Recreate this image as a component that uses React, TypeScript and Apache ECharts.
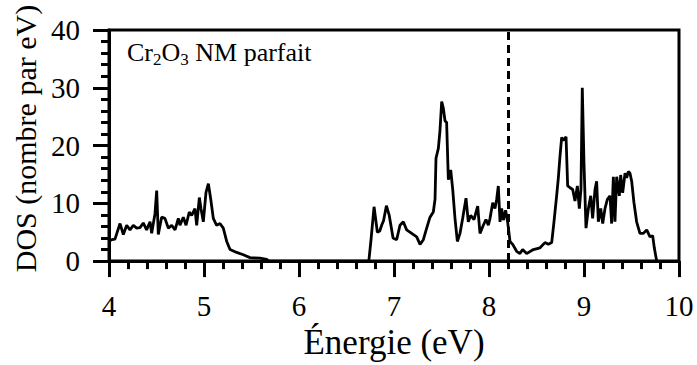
import React, { useEffect, useRef } from "react";
import * as echarts from "echarts";

const energy: number[] = [
  4.0, 4.03, 4.063, 4.116, 4.151, 4.186, 4.221, 4.256, 4.291, 4.326, 4.361, 4.396, 4.432, 4.449, 4.484, 4.502,
  4.519, 4.554, 4.589, 4.625, 4.66, 4.695, 4.73, 4.747, 4.782, 4.811, 4.845, 4.87, 4.905, 4.923, 4.951, 4.968,
  4.993, 5.021, 5.046, 5.071, 5.098, 5.133, 5.168, 5.203, 5.239, 5.274, 5.344, 5.414, 5.484, 5.589, 5.66, 5.68,
  6.72, 6.735, 6.76, 6.79, 6.825, 6.85, 6.87, 6.89, 6.92, 6.95, 6.99, 7.028, 7.063, 7.098, 7.133, 7.186, 7.239,
  7.274, 7.309, 7.344, 7.379, 7.414, 7.432, 7.442, 7.467, 7.484, 7.502, 7.519, 7.537, 7.554, 7.572, 7.597, 7.618,
  7.642, 7.667, 7.695, 7.723, 7.758, 7.782, 7.807, 7.842, 7.881, 7.905, 7.94, 7.968, 7.993, 8.011, 8.039, 8.063,
  8.081, 8.098, 8.116, 8.133, 8.151, 8.175, 8.196, 8.221, 8.249, 8.291, 8.326, 8.354, 8.396, 8.467, 8.537, 8.589,
  8.625, 8.66, 8.684, 8.712, 8.73, 8.747, 8.765, 8.782, 8.811, 8.828, 8.853, 8.881, 8.905, 8.93, 8.951, 8.968,
  8.982, 9.0, 9.021, 9.046, 9.071, 9.091, 9.116, 9.133, 9.151, 9.176, 9.197, 9.221, 9.246, 9.274, 9.291, 9.309,
  9.326, 9.344, 9.372, 9.386, 9.407, 9.432, 9.449, 9.467, 9.484, 9.502, 9.526, 9.554, 9.589, 9.625, 9.66, 9.695,
  9.723, 9.74, 9.765
];

const dos: number[] = [
  3.5, 3.7, 3.8, 6.5, 4.6, 6.2, 5.4, 6.2, 5.7, 5.8, 6.6, 5.4, 6.8, 4.8, 8.2, 12.2,
  4.6, 7.6, 7.4, 5.7, 6.2, 5.4, 7.4, 6.2, 7.6, 6.2, 8.5, 7.9, 9.1, 6.2, 11.0, 9.1,
  6.8, 11.9, 13.4, 10.7, 7.4, 6.2, 6.5, 5.7, 3.4, 2.0, 1.5, 1.1, 0.6, 0.5, 0.3, 0,
  0, 0, 4.0, 9.4, 5.0, 5.2, 6.2, 7.0, 9.6, 7.9, 4.0, 3.7, 6.2, 6.8, 5.4, 4.8, 4.2,
  2.9, 3.7, 5.7, 7.6, 8.5, 10.7, 17.8, 19.5, 22.6, 27.6, 26.5, 24.3, 24.0, 14.1, 15.8, 12.4,
  7.4, 3.4, 4.8, 7.4, 10.9, 6.8, 7.9, 7.2, 9.5, 4.8, 6.2, 7.2, 6.2, 7.4, 10.1, 9.1,
  10.7, 13.0, 6.8, 9.1, 7.1, 8.8, 6.8, 3.4, 2.9, 1.7, 1.3, 2.0, 1.3, 2.0, 2.3, 3.2,
  2.9, 3.2, 6.8, 11.3, 14.4, 18.1, 21.4, 20.9, 21.5, 13.0, 12.7, 12.4, 10.4, 13.0, 9.1, 12.4,
  30.0, 16.9, 5.7, 9.1, 11.3, 7.4, 12.4, 13.8, 6.8, 9.1, 6.5, 9.1, 10.7, 11.3, 6.5, 14.6,
  6.8, 14.6, 11.3, 14.9, 11.8, 15.2, 14.4, 15.5, 15.2, 13.8, 10.1, 6.8, 4.8, 4.8, 5.4, 4.2,
  4.4, 2.3, 0
];

const fermiLevel: number[] = [8.2];
const xTicks: number[] = [4, 5, 6, 7, 8, 9, 10];
const yTicks: number[] = [0, 10, 20, 30, 40];

const FONT = "Liberation Serif";

export default function App() {
  const ref = useRef<HTMLDivElement>(null);
  useEffect(() => {
    if (!ref.current) return;
    const chart = echarts.init(ref.current, undefined, { renderer: "svg" });
    const seriesData = energy.map((e, i) => [e, dos[i]]);
    chart.setOption({
      animation: false,
      backgroundColor: "#fff",
      textStyle: { fontFamily: FONT, fontWeight: "normal", color: "#000" },
      grid: {
        left: 109,
        right: 18,
        top: 30,
        bottom: 98,
        show: true,
        borderColor: "#000",
        borderWidth: 3,
        backgroundColor: "transparent",
      },
      title: {
        text: "{a|Cr}{s|2}{a|O}{s|3}{a| NM parfait}",
        left: 127,
        top: 40,
        padding: 0,
        textStyle: {
          fontFamily: FONT,
          fontWeight: "normal",
          rich: {
            a: { fontFamily: FONT, fontSize: 26, fontWeight: "normal", color: "#000", lineHeight: 28, verticalAlign: "bottom", padding: [0, 0, 3, 0] },
            s: { fontFamily: FONT, fontSize: 17, fontWeight: "normal", color: "#000", lineHeight: 17, verticalAlign: "bottom" },
          },
        },
      },
      xAxis: {
        type: "value",
        min: xTicks[0],
        max: xTicks[xTicks.length - 1],
        interval: 1,
        name: "Énergie (eV)",
        nameLocation: "middle",
        nameGap: 60,
        nameTextStyle: { fontFamily: FONT, fontWeight: "normal", fontSize: 35, color: "#000" },
        axisLine: { show: true, lineStyle: { color: "#000", width: 3 } },
        axisTick: { show: true, inside: false, length: 16, lineStyle: { color: "#000", width: 3 } },
        minorTick: { show: true, splitNumber: 5, length: 8, lineStyle: { color: "#000", width: 3 } },
        axisLabel: { fontFamily: FONT, fontWeight: "normal", fontSize: 29, color: "#000", margin: 30 },
        splitLine: { show: false },
      },
      yAxis: {
        type: "value",
        min: yTicks[0],
        max: yTicks[yTicks.length - 1],
        interval: 10,
        name: "DOS (nombre par eV)",
        nameLocation: "middle",
        nameGap: 68,
        nameTextStyle: { fontFamily: FONT, fontWeight: "normal", fontSize: 30, color: "#000", padding: [0, 0, 0, 14] },
        axisLine: { show: true, lineStyle: { color: "#000", width: 3 } },
        axisTick: { show: true, inside: false, length: 16, lineStyle: { color: "#000", width: 3 } },
        minorTick: { show: true, splitNumber: 5, length: 8, lineStyle: { color: "#000", width: 3 } },
        axisLabel: { fontFamily: FONT, fontWeight: "normal", fontSize: 29, color: "#000", margin: 29 },
        splitLine: { show: false },
      },
      series: [
        {
          type: "line",
          data: seriesData,
          showSymbol: false,
          symbol: "none",
          lineStyle: { color: "#000", width: 2.8 },
          z: 3,
          markLine: {
            silent: true,
            symbol: "none",
            label: { show: false },
            lineStyle: { color: "#000", width: 3, type: [8, 5] },
            data: fermiLevel.map((v) => ({ xAxis: v })),
          },
        },
      ],
    });
    return () => chart.dispose();
  }, []);
  return <div ref={ref} style={{ position: "fixed", left: 0, top: 0, width: 697, height: 365 }} />;
}
